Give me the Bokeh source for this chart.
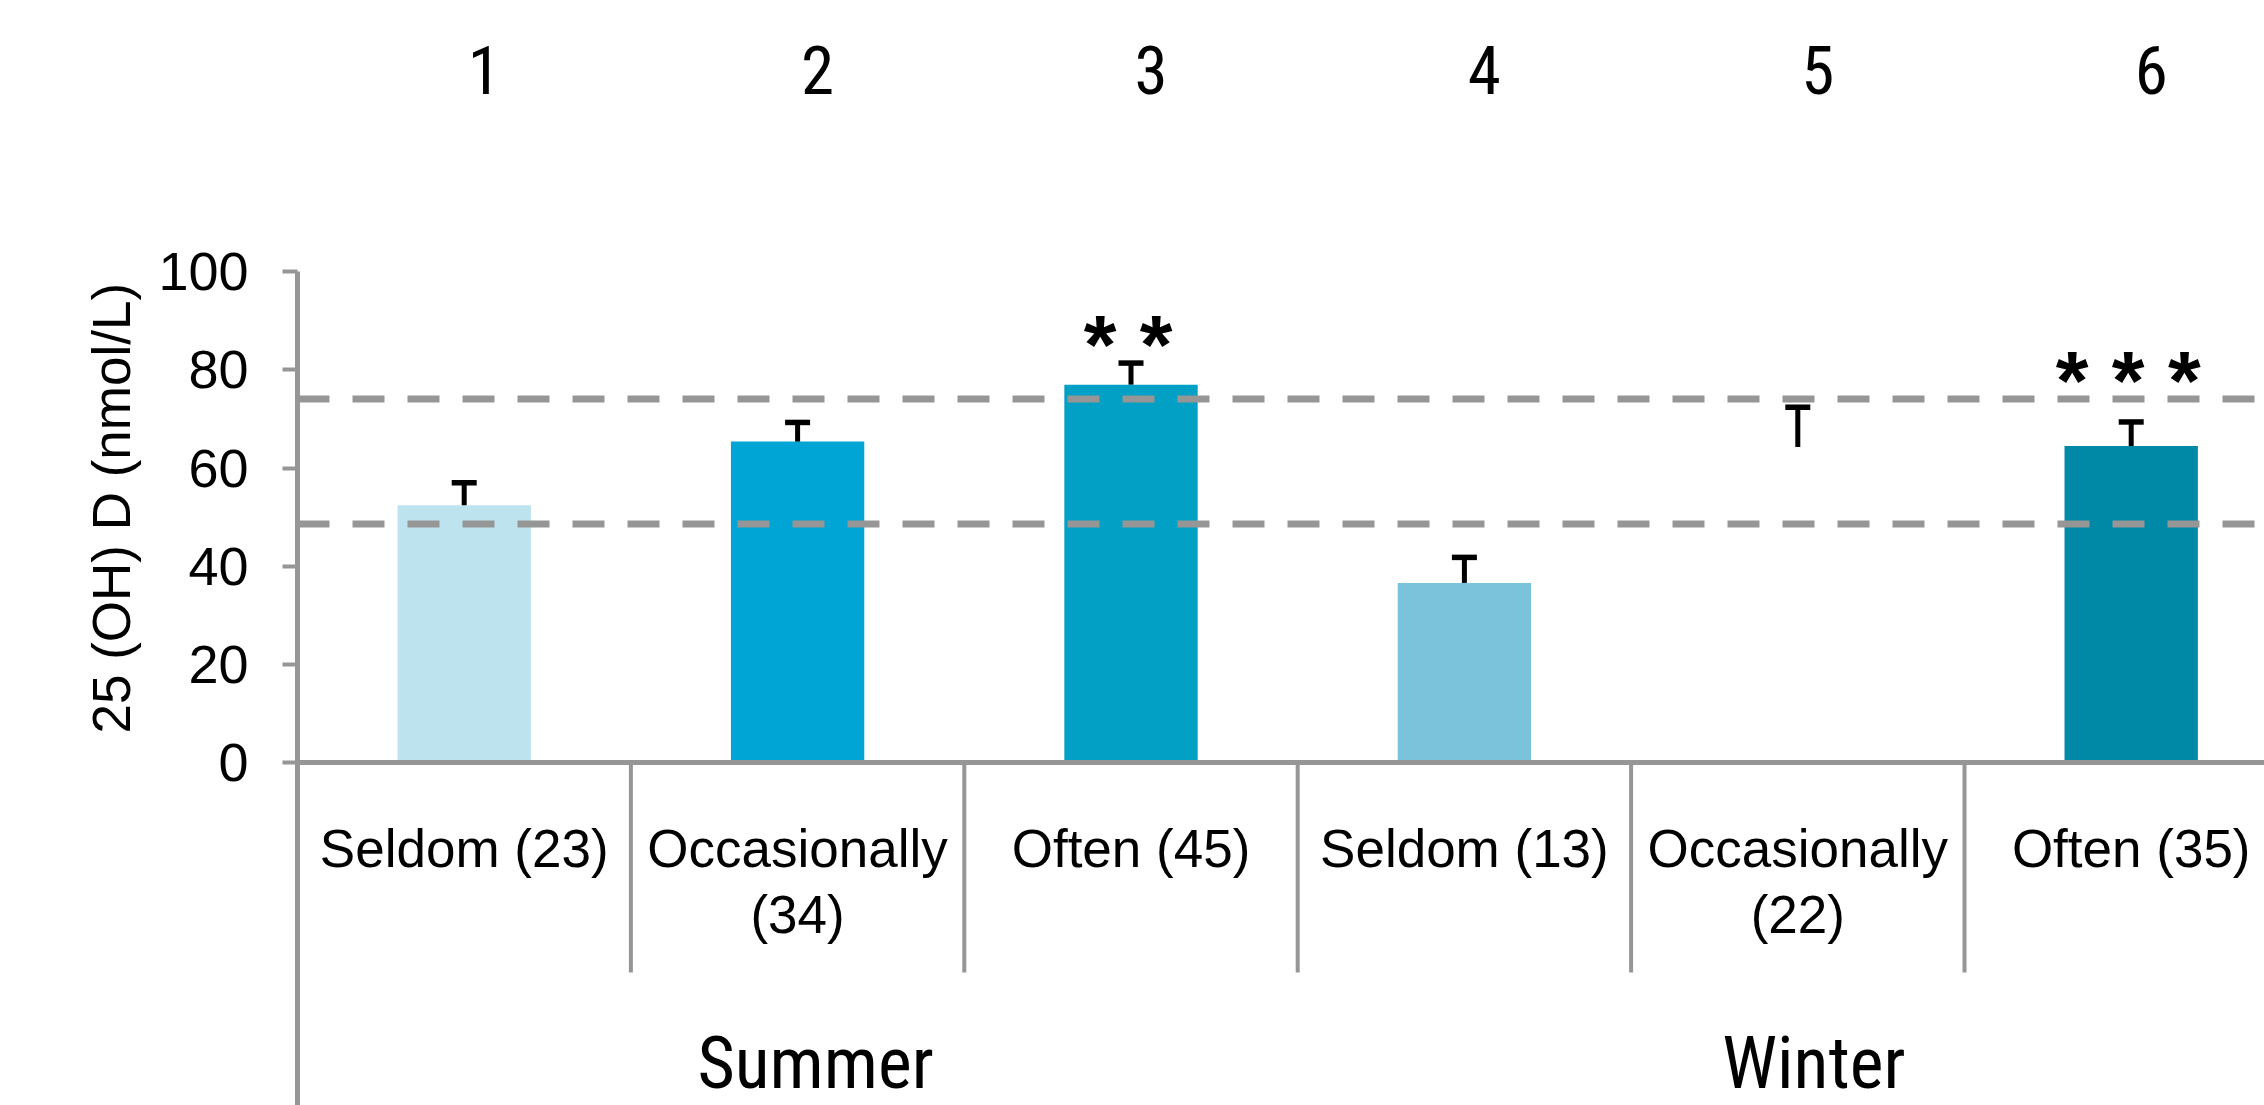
from bokeh.plotting import figure
from bokeh.models import Range1d, FixedTicker, Span, ColumnDataSource, Title
from bokeh.core.properties import value
from bokeh.embed import file_html
from bokeh.resources import INLINE

# ---- data ----
group_numbers = ["1", "2", "3", "4", "5", "6"]
categories = ["Seldom (23)", "Occasionally\n(34)", "Often (45)",
              "Seldom (13)", "Occasionally\n(22)", "Often (35)"]
seasons = ["Summer", "Winter"]
means = [52.4, 65.4, 77.0, 36.6, 64.3, 64.5]
errors = [4.6, 3.9, 4.4, 5.2, 8.1, 4.9]
significance = ["", "", "* *", "", "", "* * *"]
thresholds = [74.1, 48.6]
y_ticks = [0, 20, 40, 60, 80, 100]
bar_colors = ["#BDE4EE", "#00A5D5", "#02A0C5", "#7AC3DB", "#FFFFFF", "#0088A7"]
y_title = "25 (OH) D (nmol/L)"

GRAY = "#969696"
W, H = 2264, 1105
LEFT = 297
PX_PER_UNIT = 4.907          # vertical pixels per nmol/L
CAT_W = 333.4                # horizontal pixels per category
ZERO_PX = 762                # canvas y of value 0
y_top = ZERO_PX / PX_PER_UNIT
y_bot = -(H - ZERO_PX) / PX_PER_UNIT
x_max = (W - LEFT) / CAT_W
py = 1.0 / PX_PER_UNIT
px = 1.0 / CAT_W

REG = "Liberation Sans"
COND = "Roboto Condensed"

p = figure(width=W, height=H, output_backend="svg", toolbar_location=None,
           x_range=Range1d(0, x_max), y_range=Range1d(y_bot, y_top),
           x_axis_location=None, min_border_left=LEFT, min_border_right=0,
           min_border_top=0, min_border_bottom=0, outline_line_color=None)
p.grid.visible = False
p.background_fill_color = "white"
p.border_fill_color = "white"

ax = p.yaxis[0]
ax.ticker = FixedTicker(ticks=y_ticks)
ax.bounds = (y_bot, 100)
ax.axis_line_color = GRAY
ax.axis_line_width = 5
ax.major_tick_line_color = GRAY
ax.major_tick_line_width = 4
ax.major_tick_out = 15
ax.major_tick_in = 0
ax.minor_tick_line_color = None
ax.major_label_standoff = 34
ax.major_label_text_font = REG
ax.major_label_text_font_size = "54px"
ax.major_label_text_color = "black"

# y axis title as a side title, started from the bottom so it sits over 0-100
p.add_layout(Title(text=y_title, align="left", offset=H - 733, standoff=30,
                   text_font=REG, text_font_size="53px",
                   text_font_style="normal", text_color="black"), "left")

xs = [i + 0.5 for i in range(len(means))]
uppers = [m + e for m, e in zip(means, errors)]
src = ColumnDataSource(dict(x=xs, top=means, color=bar_colors, up=uppers))

# bars
p.vbar(x="x", top="top", bottom=0, width=0.40, fill_color="color",
       line_color=None, source=src)

# reference dashed lines
for t in thresholds:
    p.add_layout(Span(location=t, dimension="width", line_color=GRAY,
                      line_width=7, line_dash="32 23"))

# x axis line
p.add_layout(Span(location=0, dimension="width", line_color=GRAY, line_width=5))

# category dividers
div_x = list(range(1, len(categories)))
p.segment(x0=div_x, y0=[0] * len(div_x), x1=div_x, y1=[-210 * py] * len(div_x),
          line_color=GRAY, line_width=4)

# error bars
p.segment(x0="x", y0="top", x1="x", y1="up", line_color="black", line_width=5,
          source=src)
p.scatter(x="x", y="up", marker="dash", size=25, line_width=5.5,
          line_color="black", source=src)

# significance stars
star_x, star_y, star_t = [], [], []
for i, s in enumerate(significance):
    if s:
        star_x.append(xs[i] - 3 * px)
        star_y.append(max(uppers[i], thresholds[0]) + 18 * py)
        star_t.append(s)
p.text(x=star_x, y=star_y, text=star_t, text_font=value(REG),
       text_font_size="84px", text_font_style="bold", text_align="center",
       text_baseline="middle", text_color="black")

# top group numbers
p.text(x=[x + 20 * px for x in xs], y=[(ZERO_PX - 69) * py] * len(xs),
       text=group_numbers, text_font=value(COND), text_font_size="67px",
       text_align="center", text_baseline="middle", text_color="black")

# category labels (1 or 2 lines)
l1x, l1t, l2x, l2t = [], [], [], []
for i, c in enumerate(categories):
    parts = c.split("\n")
    l1x.append(xs[i]); l1t.append(parts[0])
    if len(parts) > 1:
        l2x.append(xs[i]); l2t.append(parts[1])
p.text(x=l1x, y=[-85.5 * py] * len(l1x), text=l1t, text_font=value(REG),
       text_font_size="53px", text_align="center", text_baseline="middle",
       text_color="black")
p.text(x=l2x, y=[-152 * py] * len(l2x), text=l2t, text_font=value(REG),
       text_font_size="53px", text_align="center", text_baseline="middle",
       text_color="black")

# season labels
season_x = [1.5 + 18 * px, 4.5 + 16 * px]
p.text(x=season_x, y=[-(1063 - ZERO_PX) * py] * 2, text=seasons,
       text_font=value(COND), text_font_size="72px", text_align="center",
       text_baseline="middle", text_color="black")

open("out.html", "w").write(file_html(p, INLINE))
